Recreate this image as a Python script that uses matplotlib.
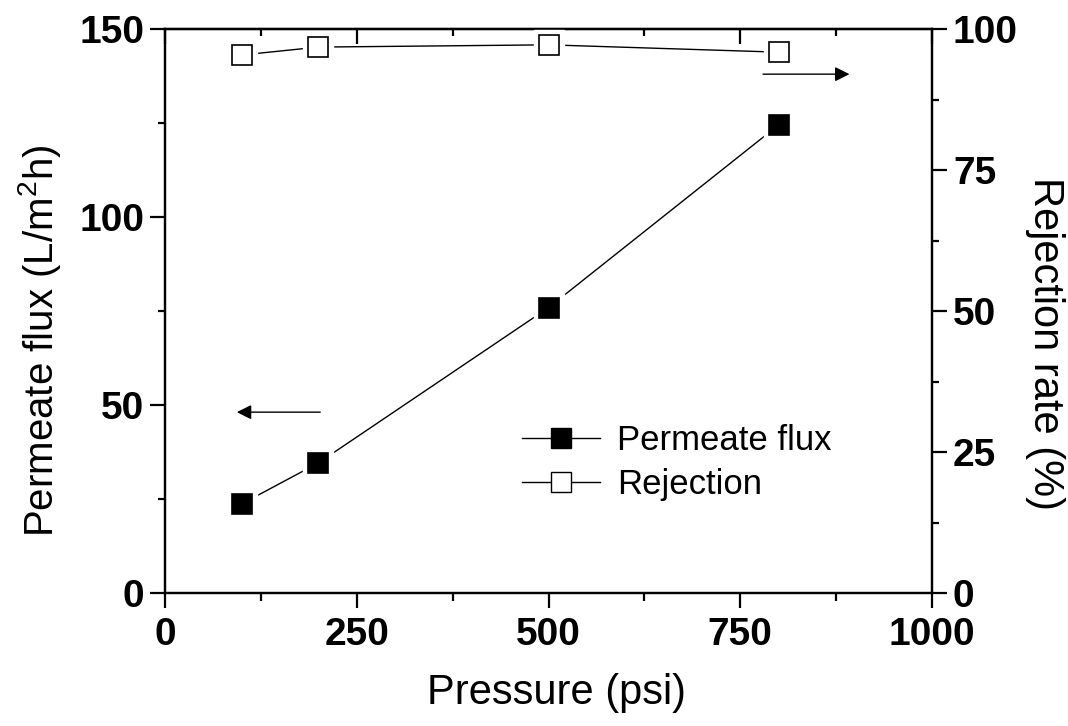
import matplotlib
matplotlib.use("Agg")
import matplotlib.pyplot as plt
from matplotlib.ticker import MultipleLocator
from matplotlib.lines import Line2D

plt.rcParams['font.family'] = ['Liberation Sans', 'DejaVu Sans']
plt.rcParams['mathtext.fontset'] = 'custom'
plt.rcParams['mathtext.rm'] = 'Liberation Sans'
plt.rcParams['mathtext.it'] = 'Liberation Sans:italic'

pressure = [100, 200, 500, 800]
flux = [23.7, 34.6, 75.9, 124.5]
rejection = [95.4, 96.8, 97.2, 95.9]

fig = plt.figure(figsize=(10.68, 7.26), dpi=100)
ax1 = fig.add_axes([0.1545, 0.1832, 0.7182, 0.7768])
ax2 = ax1.twinx()

ms = 14
# flux series
ax1.plot(pressure, flux, '-', color='black', lw=1.0, zorder=2)
ax1.plot(pressure, flux, 's', ms=ms + 8, mfc='white', mec='white', zorder=3)
ax1.plot(pressure, flux, 's', ms=ms, mfc='black', mec='black', mew=1.2, zorder=4)
# rejection series
ax2.plot(pressure, rejection, '-', color='black', lw=1.0, zorder=2)
ax2.plot(pressure, rejection, 's', ms=ms + 8, mfc='white', mec='white', zorder=3)
ax2.plot(pressure, rejection, 's', ms=ms, mfc='white', mec='black', mew=1.2, zorder=4)

ax1.set_xlim(0, 1000)
ax1.set_ylim(0, 150)
ax2.set_ylim(0, 100)

ax1.xaxis.set_major_locator(MultipleLocator(250))
ax1.xaxis.set_minor_locator(MultipleLocator(125))
ax1.yaxis.set_major_locator(MultipleLocator(50))
ax1.yaxis.set_minor_locator(MultipleLocator(25))
ax2.yaxis.set_major_locator(MultipleLocator(25))
ax2.yaxis.set_minor_locator(MultipleLocator(12.5))

TS = 28
for ax in (ax1, ax2):
    for sp in ax.spines.values():
        sp.set_linewidth(1.6)
ax1.tick_params(axis='x', which='both', direction='out', top=False, width=1.6, labelsize=TS, pad=6)
ax1.tick_params(axis='x', which='major', length=11)
ax1.tick_params(axis='x', which='minor', length=6)
ax1.tick_params(axis='y', which='both', direction='out', right=False, width=1.6, labelsize=TS, pad=4)
ax1.tick_params(axis='y', which='major', length=11)
ax1.tick_params(axis='y', which='minor', length=5)
ax2.tick_params(axis='y', which='both', direction='out', width=1.6, labelsize=TS, pad=4)
ax2.tick_params(axis='y', which='major', length=11)
ax2.tick_params(axis='y', which='minor', length=5)

# top ticks point inward
sec = ax1.secondary_xaxis('top')
sec.xaxis.set_major_locator(MultipleLocator(250))
sec.xaxis.set_minor_locator(MultipleLocator(125))
sec.tick_params(axis='x', which='both', direction='in', labeltop=False, width=1.6)
sec.tick_params(axis='x', which='major', length=11)
sec.tick_params(axis='x', which='minor', length=5)
sec.spines['top'].set_linewidth(1.6)

for lab in ax1.get_xticklabels() + ax1.get_yticklabels() + ax2.get_yticklabels():
    lab.set_fontweight('bold')

LS = 30
ax1.set_xlabel('Pressure (psi)', fontsize=LS, labelpad=15)
ax1.set_ylabel('Permeate flux (L/m$^2$h)', fontsize=LS - 1, labelpad=12)
ax2.set_ylabel('Rejection rate (%)', fontsize=LS, rotation=270, labelpad=34)
ax1.xaxis.label.set_x(0.511)
ax1.yaxis.label.set_y(0.447)
ax2.yaxis.label.set_y(0.443)

# arrows
ax1.annotate('', xy=(90, 48.1), xytext=(206, 48.1),
             arrowprops=dict(arrowstyle='-|>', color='black', lw=1.0, mutation_scale=22))
ax2.annotate('', xy=(896, 92.0), xytext=(776, 92.0),
             arrowprops=dict(arrowstyle='-|>', color='black', lw=1.0, mutation_scale=22))

# legend
h1 = Line2D([], [], color='black', lw=1.0, marker='s', ms=ms, mfc='black', mec='black')
h2 = Line2D([], [], color='black', lw=1.0, marker='s', ms=ms, mfc='white', mec='black')
ax1.legend([h1, h2], ['Permeate flux', 'Rejection'], loc='upper left',
           bbox_to_anchor=(0.465, 0.30), frameon=False, fontsize=25,
           handlelength=2.25, handletextpad=0.5, labelspacing=0.33, borderpad=0,
           borderaxespad=0)

fig.savefig('out.png', dpi=100)
